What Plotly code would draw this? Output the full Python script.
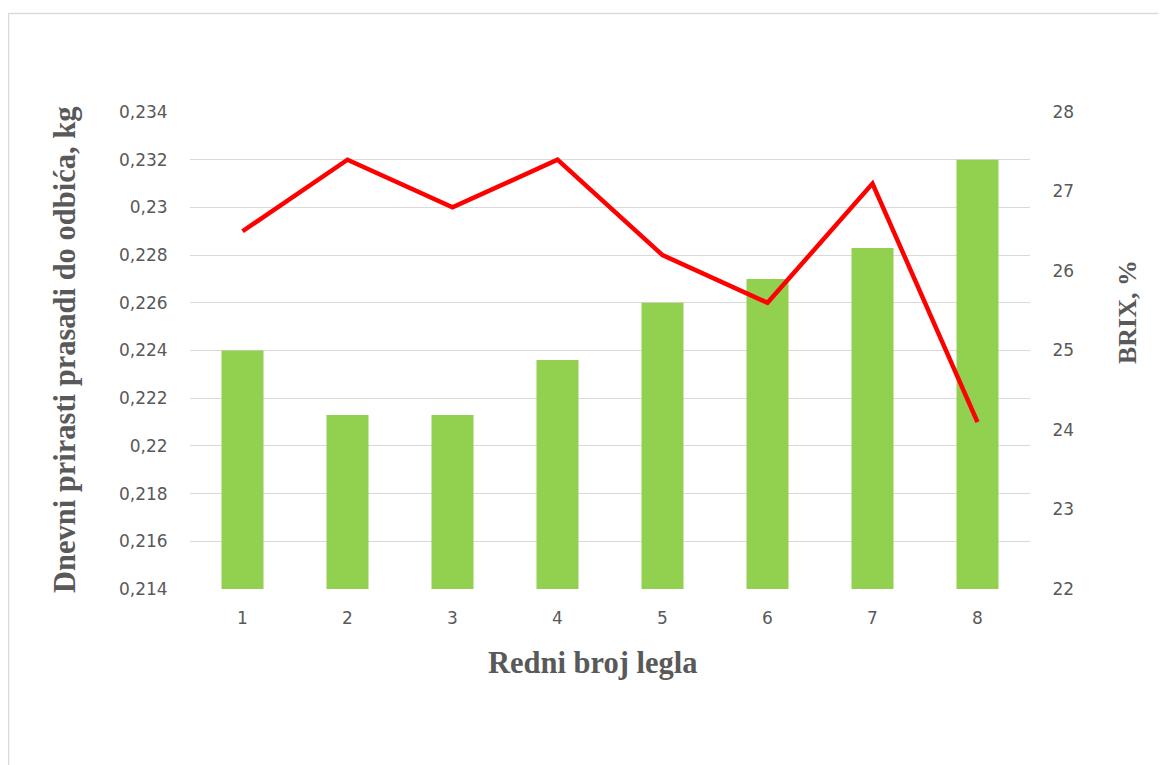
import plotly.graph_objects as go

# Data
categories = [1, 2, 3, 4, 5, 6, 7, 8]
daily_gain_kg = [0.224, 0.2213, 0.2213, 0.2236, 0.226, 0.227, 0.2283, 0.232]
brix_pct = [26.5, 27.4, 26.8, 27.4, 26.2, 25.6, 27.1, 24.1]

left_tickvals = [0.214, 0.216, 0.218, 0.220, 0.222, 0.224, 0.226, 0.228, 0.230, 0.232, 0.234]
left_ticktext = ["0,214", "0,216", "0,218", "0,22", "0,222", "0,224", "0,226", "0,228", "0,23", "0,232", "0,234"]
right_tickvals = [22, 23, 24, 25, 26, 27, 28]

# page offset from default body margin
OFF = 8
W, H = 1166 - OFF, 765 - OFF
L, R, T, B = 190 - OFF, 1030 - OFF, 112 - OFF, 589 - OFF

def px(x):
    return (x - OFF - L) / (R - L)

def py(y):
    return (B - (y - OFF)) / (B - T)

tick_font = dict(family="DejaVu Sans, sans-serif", size=17, color="#595959")
title_font = dict(family="Liberation Serif, Times New Roman, serif", size=30.5, color="#595959")
brix_font = dict(family="Liberation Serif, Times New Roman, serif", size=26, color="#595959")

fig = go.Figure()
fig.add_trace(go.Bar(
    x=categories, y=daily_gain_kg, marker=dict(color="#92D050", line=dict(width=0)),
    width=0.4, yaxis="y", name="Dnevni prirasti", showlegend=False,
))
fig.add_trace(go.Scatter(
    x=categories, y=brix_pct, mode="lines", line=dict(color="#FF0000", width=4.5),
    yaxis="y2", name="BRIX", showlegend=False,
))

fig.update_layout(
    width=W, height=H,
    margin=dict(l=L, r=W - R, t=T, b=H - B, autoexpand=False),
    paper_bgcolor="white", plot_bgcolor="white",
    xaxis=dict(
        range=[0.5, 8.5], tickvals=categories, ticktext=[str(c) for c in categories],
        showgrid=False, zeroline=False, showline=False,
        ticks="outside", ticklen=14, tickcolor="rgba(0,0,0,0)",
        tickfont=tick_font,
    ),
    yaxis=dict(
        range=[0.214, 0.234], tickvals=left_tickvals, ticktext=left_ticktext,
        showgrid=True, gridcolor="#D9D9D9", gridwidth=1, zeroline=False, showline=False,
        ticks="outside", ticklen=18, tickcolor="rgba(0,0,0,0)",
        tickfont=tick_font,
    ),
    yaxis2=dict(
        range=[22, 28], tickvals=right_tickvals, overlaying="y", side="right",
        showgrid=False, zeroline=False, showline=False,
        ticks="outside", ticklen=18, tickcolor="rgba(0,0,0,0)",
        tickfont=tick_font,
    ),
    annotations=[
        dict(text="<b>Dnevni prirasti prasadi do odbića, kg</b>", xref="paper", yref="paper",
             x=px(65), y=py(350), xanchor="center", yanchor="middle", textangle=-90,
             showarrow=False, font=title_font),
        dict(text="<b>BRIX, %</b>", xref="paper", yref="paper",
             x=px(1127), y=py(312), xanchor="center", yanchor="middle", textangle=-90,
             showarrow=False, font=brix_font),
        dict(text="<b>Redni broj legla</b>", xref="paper", yref="paper",
             x=px(593), y=py(663), xanchor="center", yanchor="middle",
             showarrow=False, font=title_font),
    ],
    shapes=[
        dict(type="rect", xref="paper", yref="paper",
             x0=px(OFF + 0.5), x1=px(1163), y0=py(790), y1=py(13.5),
             line=dict(color="#D9D9D9", width=1.5), fillcolor="rgba(0,0,0,0)", layer="below"),
    ],
)

fig.write_html("out.html")
